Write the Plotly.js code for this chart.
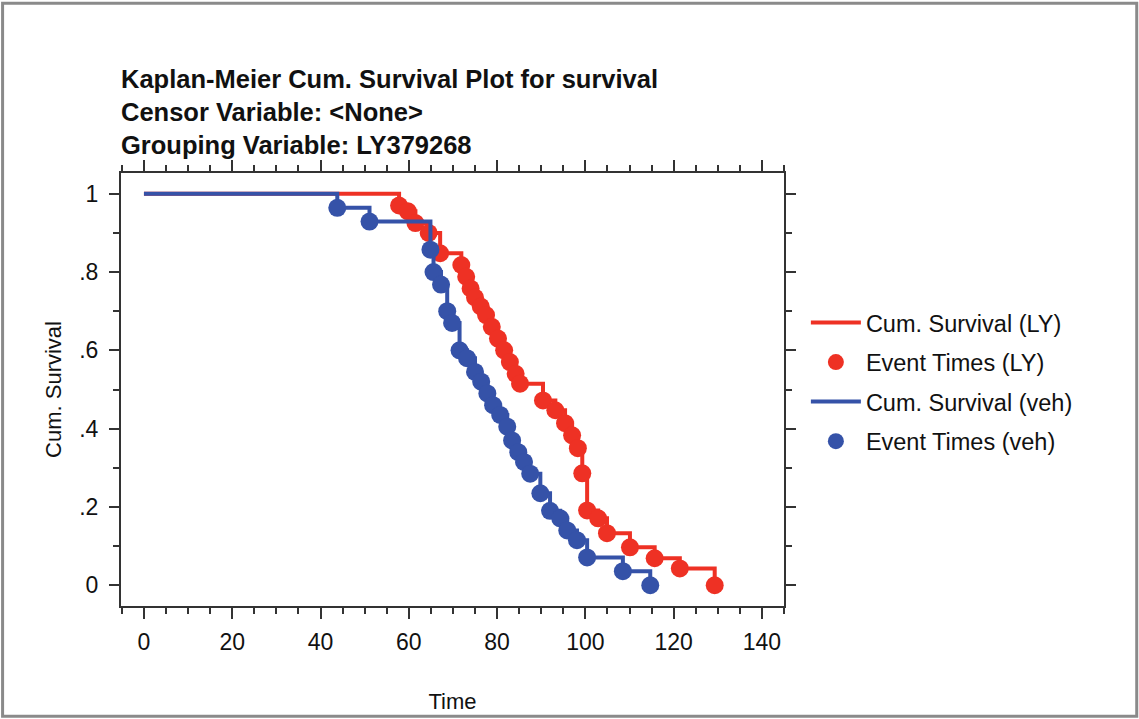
<!DOCTYPE html>
<html>
<head>
<meta charset="utf-8">
<script src="https://cdn.plot.ly/plotly-3.0.1.min.js"></script>
<style>html,body{margin:0;padding:0;background:#fff;}#chart{width:1139px;height:719px;}</style>
</head>
<body>
<div id="chart"></div>
<script>
// LY group: event times and cumulative survival after each event
var lyTimes = [57.8,59.8,61.5,64.5,67.1,71.9,73.0,74.0,75.0,76.3,77.5,78.8,80.2,81.6,82.9,84.2,85.2,90.4,93.2,95.4,97.0,98.3,99.3,100.4,102.9,104.9,110.1,115.7,121.4,129.3];
var lySurv  = [0.970,0.955,0.925,0.900,0.848,0.818,0.788,0.758,0.735,0.712,0.690,0.660,0.630,0.600,0.570,0.540,0.515,0.472,0.447,0.414,0.383,0.350,0.286,0.191,0.171,0.133,0.097,0.069,0.043,0.0];
// veh group
var vehTimes = [43.8,51.1,64.9,65.6,67.3,68.7,69.8,71.5,73.2,75.0,76.4,77.8,79.1,80.7,82.3,83.4,84.8,86.1,87.5,89.8,92.0,94.3,95.9,98.1,100.4,108.5,114.7];
var vehSurv  = [0.964,0.929,0.857,0.800,0.768,0.700,0.670,0.600,0.580,0.545,0.520,0.490,0.460,0.435,0.405,0.370,0.340,0.315,0.285,0.235,0.190,0.171,0.140,0.115,0.071,0.036,0.0];
// start of each curve
var startTime = 0, startSurv = 1;

var yTickVals = [0,0.2,0.4,0.6,0.8,1];
var yTickText = ['0','.2','.4','.6','.8','1'];
var xTickVals = [0,20,40,60,80,100,120,140];

var RED = '#ee3124', BLUE = '#3552a8';
var F = 'Liberation Sans, Arial, sans-serif';

var traces = [
  {x:[startTime].concat(lyTimes), y:[startSurv].concat(lySurv), mode:'lines', line:{shape:'hv', color:RED, width:4},
   name:'Cum. Survival (LY)', legendgroup:'a', hoverinfo:'skip'},
  {x:lyTimes, y:lySurv, mode:'markers', marker:{color:RED, size:18}, name:'Event Times (LY)', legendgroup:'b', hoverinfo:'skip'},
  {x:[startTime].concat(vehTimes), y:[startSurv].concat(vehSurv), mode:'lines', line:{shape:'hv', color:BLUE, width:4},
   name:'Cum. Survival (veh)', legendgroup:'c', hoverinfo:'skip'},
  {x:vehTimes, y:vehSurv, mode:'markers', marker:{color:BLUE, size:18}, name:'Event Times (veh)', legendgroup:'d', hoverinfo:'skip'}
];

var axCol = '#333';
var layout = {
  width:1139, height:719,
  paper_bgcolor:'#fff', plot_bgcolor:'#fff',
  margin:{l:120.5, r:355, t:172.7, b:113.3, pad:0},
  font:{family:F, color:'#111'},
  title:{text:'Kaplan-Meier Cum. Survival Plot for survival<br>Censor Variable: &lt;None&gt;<br>Grouping Variable: LY379268',
         font:{family:F, size:25.5, color:'#111', weight:'bold'}, x:121/1139, xanchor:'left', xref:'container',
         y:1-88/719, yanchor:'top', yref:'container'},
  xaxis:{range:[-5.2,145], tickvals:xTickVals, ticks:'outside', ticklen:11, tickwidth:2, tickcolor:axCol,
         showline:true, linecolor:axCol, linewidth:2, mirror:'ticks', showgrid:false, zeroline:false,
         minor:{dtick:5, tick0:0, ticks:'outside', ticklen:6, tickwidth:2, tickcolor:axCol, showgrid:false},
         tickfont:{family:F, size:23, color:'#111'}, ticklabelstandoff:3,
         title:{text:'Time', font:{family:F, size:22, color:'#111'}, standoff:40}},
  yaxis:{range:[-0.053,1.053], tickvals:yTickVals, ticktext:yTickText, ticks:'outside', ticklen:10, tickwidth:2, tickcolor:axCol,
         showline:true, linecolor:axCol, linewidth:2, mirror:'ticks', showgrid:false, zeroline:false,
         minor:{dtick:0.1, tick0:0, ticks:'outside', ticklen:6, tickwidth:2, tickcolor:axCol, showgrid:false},
         tickfont:{family:F, size:23, color:'#111'}, ticklabelstandoff:6,
         title:{text:'Cum. Survival', font:{family:F, size:22, color:'#111'}, standoff:12}},
  showlegend:true,
  legend:{x:1.033, xanchor:'left', y:0.705, yanchor:'top', font:{family:F, size:23.5, color:'#111'},
          bgcolor:'rgba(0,0,0,0)', itemwidth:50, tracegroupgap:6},
  shapes:[{type:'rect', xref:'paper', yref:'paper', x0:(2-120.5)/663.5, x1:(1137-120.5)/663.5,
           y0:(605.7-716)/433, y1:(605.7-3)/433, line:{color:'#8a8a8a', width:3}, fillcolor:'rgba(0,0,0,0)', layer:'below'}]
};

Plotly.newPlot('chart', traces, layout, {displayModeBar:false, staticPlot:true});
</script>
</body>
</html>
